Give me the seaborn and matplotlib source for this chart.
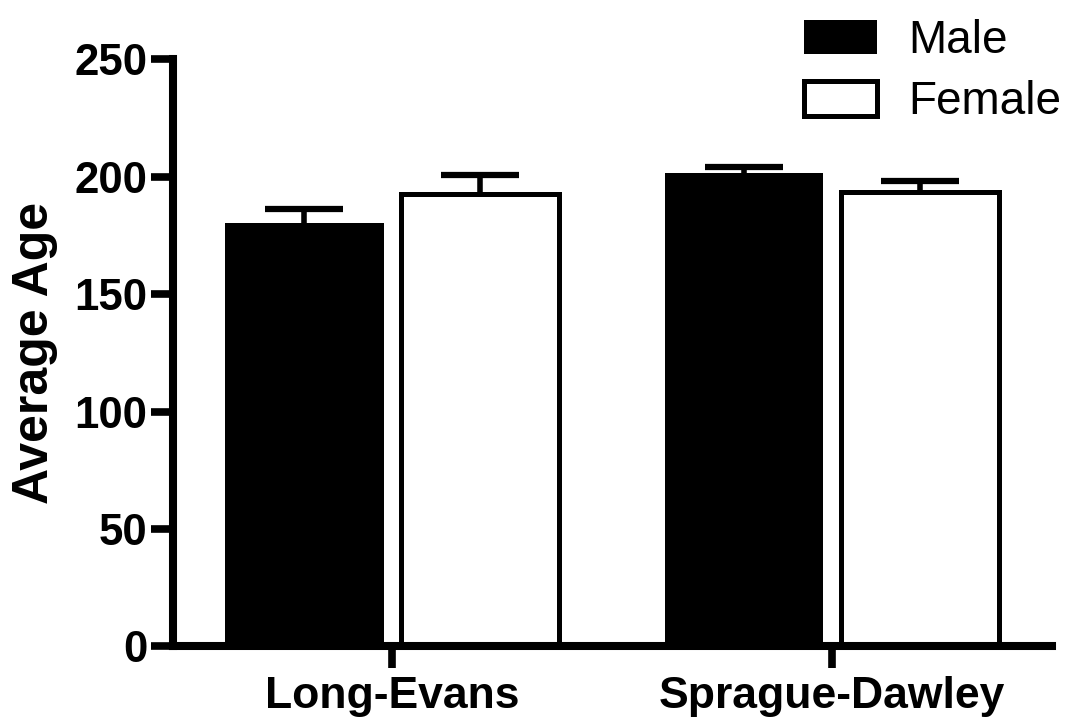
import numpy as np
import pandas as pd
import matplotlib
matplotlib.use("Agg")
import matplotlib.pyplot as plt
import seaborn as sns

# Values
strains = ["Long-Evans", "Sprague-Dawley"]
sexes = ["Male", "Female"]
male_age = [180.1, 201.4]
female_age = [192.6, 193.3]
male_sem = [6.2, 2.9]
female_sem = [8.2, 4.9]
y_ticks = [0, 50, 100, 150, 200, 250]

df = pd.DataFrame({
    "Strain": strains * 2,
    "Sex": ["Male"] * len(strains) + ["Female"] * len(strains),
    "Age": male_age + female_age,
})
sems = {"Male": male_sem, "Female": female_sem}

sns.set_theme(style="ticks")
plt.rcParams["font.family"] = ["Liberation Sans", "DejaVu Sans"]

fig = plt.figure(figsize=(10.72, 7.23), dpi=100)
ax = fig.add_axes([0.161, 0.106, 0.82, 0.812])

sns.barplot(data=df, x="Strain", y="Age", hue="Sex", order=strains, hue_order=sexes,
            palette={"Male": "black", "Female": "white"}, width=0.8, gap=0.1,
            errorbar=None, edgecolor="black", linewidth=0, legend=False, ax=ax)

# one-sided (upper) error bars, GraphPad style
for sex, cont in zip(sexes, ax.containers):
    for p in cont.patches:
        p.set_zorder(3)
        if sex == "Female":
            p.set_linewidth(3.6)
    xs = [p.get_x() + p.get_width() / 2 for p in cont.patches]
    ys = [p.get_height() for p in cont.patches]
    err = sems[sex]
    _, caps, _ = ax.errorbar(xs, ys, yerr=[np.zeros(len(err)), err], fmt="none",
                             ecolor="black", elinewidth=4, capsize=28, capthick=4.5,
                             zorder=2)
    caps[0].set_visible(False)

ax.set_xlim(-0.5, 1.5)
ax.set_ylim(0, 250)
ax.set_yticks(y_ticks)
sns.despine(ax=ax)
for side in ["left", "bottom"]:
    ax.spines[side].set_linewidth(5.8)
    ax.spines[side].set_color("black")
    ax.spines[side].set_zorder(4)
ax.tick_params(axis="both", length=16, width=5.5, color="black")
ax.tick_params(axis="y", labelsize=31.5, pad=2)
ax.tick_params(axis="x", labelsize=32, pad=5)
for lab in ax.get_xticklabels() + ax.get_yticklabels():
    lab.set_fontweight("bold")
    lab.set_color("black")

ax.set_xlabel("")
ax.set_ylabel("Average Age", fontsize=36, fontweight="bold", color="black", labelpad=12)

fig.legend(handles=list(ax.containers), labels=sexes, loc="upper left",
           bbox_to_anchor=(804 / 1072, 1 - 19 / 723), frameon=False, fontsize=33,
           labelcolor="black", handlelength=1.6, handleheight=0.78,
           handletextpad=0.68, labelspacing=0.38, borderpad=0, borderaxespad=0)

fig.savefig("out.png", dpi=100, facecolor="white")
